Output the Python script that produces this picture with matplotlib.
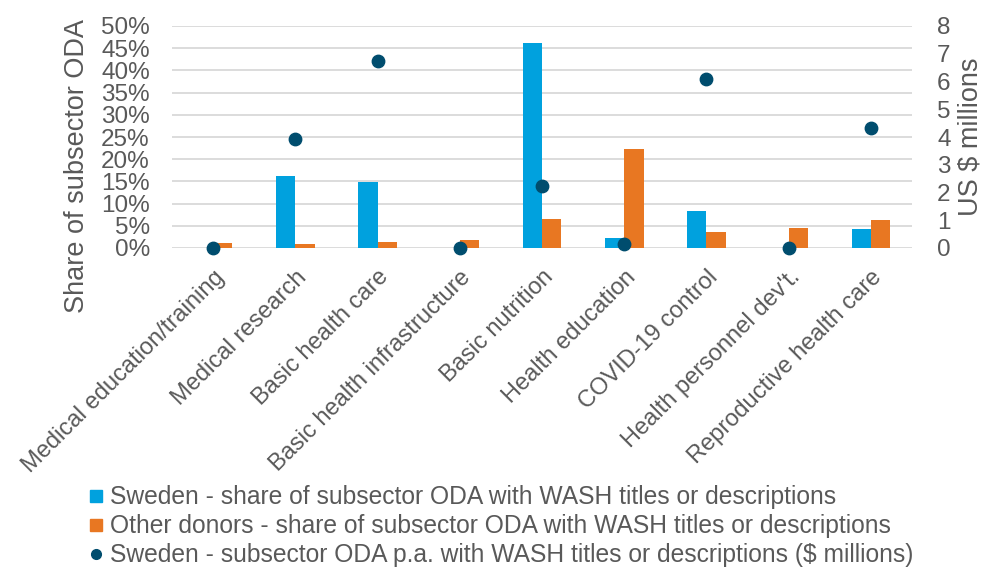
import numpy as np
import matplotlib.pyplot as plt
from matplotlib.lines import Line2D

plt.rcParams['font.family'] = ['Liberation Sans', 'DejaVu Sans']

categories = ["Medical education/training", "Medical research", "Basic health care",
              "Basic health infrastructure", "Basic nutrition", "Health education",
              "COVID-19 control", "Health personnel dev't.", "Reproductive health care"]
sweden_share = [0.0, 16.3, 14.9, 0.0, 46.1, 2.3, 8.3, 0.0, 4.3]
other_share = [1.1, 1.0, 1.3, 1.7, 6.6, 22.4, 3.7, 4.6, 6.3]
sweden_musd = [0.0, 3.92, 6.73, 0.0, 2.25, 0.13, 6.08, 0.0, 4.33]

blue = '#00A1DE'
orange = '#E87722'
navy = '#004D6E'
grey = '#595959'

fig = plt.figure(figsize=(9.84, 5.73), dpi=100)
ax = fig.add_axes([172/984, 1 - 248/573, 740/984, 222/573])
ax2 = ax.twinx()

x = np.arange(len(categories))
w = 0.235
ax.bar(x - w/2, sweden_share, w, color=blue, zorder=2)
ax.bar(x + w/2, other_share, w, color=orange, zorder=2)
ax2.scatter(x, sweden_musd, s=80, color=navy, zorder=3, clip_on=False)

ax.set_xlim(-0.5, len(categories) - 0.5)
ax.set_ylim(0, 50)
ax2.set_ylim(0, 8)
ax.set_yticks(np.arange(0, 51, 5))
ax.set_yticklabels([f"{v}%" for v in range(0, 51, 5)])
ax2.set_yticks(range(0, 9))
ax.grid(axis='y', color='#D9D9D9', linewidth=1.3, zorder=0)
ax.set_axisbelow(True)

for a in (ax, ax2):
    for s in a.spines.values():
        s.set_visible(False)
    a.tick_params(length=0, labelsize=17.5, colors=grey)
ax.tick_params(axis='y', pad=16)
ax2.tick_params(axis='y', pad=18)

ax.set_xticks(x)
ax.set_xticklabels(categories, rotation=45, ha='right', va='top',
                   rotation_mode='anchor', fontsize=17, color=grey)
ax.tick_params(axis='x', pad=13)

ax.set_ylabel("Share of subsector ODA", fontsize=19.5, color=grey)
ax.yaxis.set_label_coords(-0.111, 0.37)
ax2.set_ylabel("US $ millions", fontsize=19.5, color=grey)
ax2.yaxis.set_label_coords(1.062, 0.5)

handles = [
    Line2D([], [], marker='s', linestyle='none', color=blue, markersize=8),
    Line2D([], [], marker='s', linestyle='none', color=orange, markersize=8),
    Line2D([], [], marker='o', linestyle='none', color=navy, markersize=7),
]
labels = ["Sweden - share of subsector ODA with WASH titles or descriptions",
          "Other donors - share of subsector ODA with WASH titles or descriptions",
          "Sweden - subsector ODA p.a. with WASH titles or descriptions ($ millions)"]
fig.legend(handles, labels, loc='upper left', bbox_to_anchor=(76/984, 1 - 473/573),
           frameon=False, fontsize=17.7, labelcolor=grey, handlelength=0.6,
           handletextpad=0.3, labelspacing=0.2, borderpad=0)

fig.savefig('out.png', dpi=100)
